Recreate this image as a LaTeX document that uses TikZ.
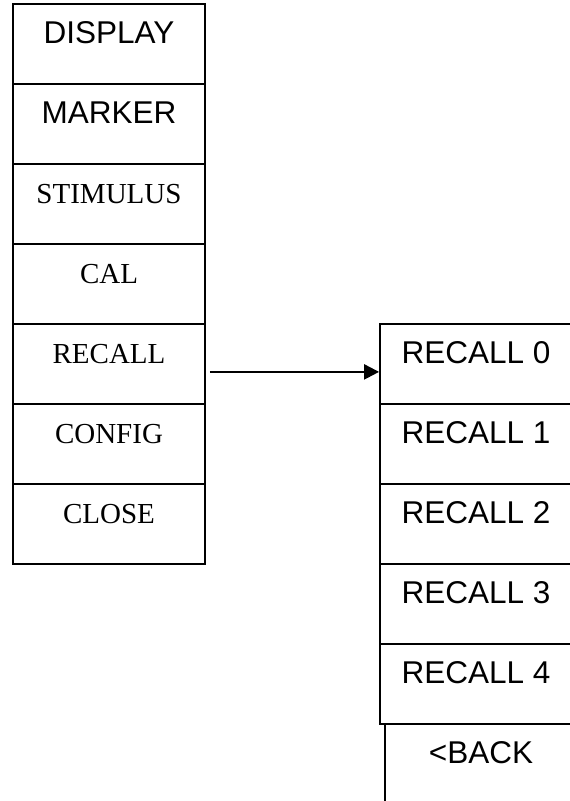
\documentclass[tikz,border=0pt]{standalone}
\usepackage{fontspec}
\setmainfont{Liberation Serif}
\setsansfont{Liberation Sans}
\usetikzlibrary{arrows.meta}
\tikzset{
  cell/.style={draw=black, line width=1.8pt, rectangle, inner sep=0pt,
    minimum width=192pt, minimum height=80pt,
    text height=40pt, text depth=40pt, anchor=north},
  sanscell/.style={cell, font=\sffamily\fontsize{31.5}{36}\selectfont},
  serifcell/.style={cell, font=\rmfamily\fontsize{29}{34}\selectfont},
  link/.style={line width=2.2pt, -{Triangle[length=15pt, width=15pt]}}
}
\begin{document}
\begin{tikzpicture}[x=1pt, y=-1pt]
  \useasboundingbox (0,0) rectangle (570,801);
  \clip (0,0) rectangle (570,801);
  % main menu
  \node[sanscell]  (display)  at (109,3)   {DISPLAY};
  \node[sanscell]  (marker)   at (109,83)  {MARKER};
  \node[serifcell] (stimulus) at (109,163) {STIMULUS};
  \node[serifcell] (cal)      at (109,243) {CAL};
  \node[serifcell] (recall)   at (109,323) {RECALL};
  \node[serifcell] (config)   at (109,403) {CONFIG};
  \node[serifcell] (close)    at (109,483) {CLOSE};
  % recall submenu
  \node[sanscell] (r0)   at (476,323) {RECALL 0};
  \node[sanscell] (r1)   at (476,403) {RECALL 1};
  \node[sanscell] (r2)   at (476,483) {RECALL 2};
  \node[sanscell] (r3)   at (476,563) {RECALL 3};
  \node[sanscell] (r4)   at (476,643) {RECALL 4};
  \node[sanscell] (back) at (481,723) {<BACK};
  % link from RECALL to its submenu
  \draw[link] ([xshift=4pt, yshift=-8pt]recall.east) -- ([yshift=-8pt]r0.west);
\end{tikzpicture}
\end{document}
